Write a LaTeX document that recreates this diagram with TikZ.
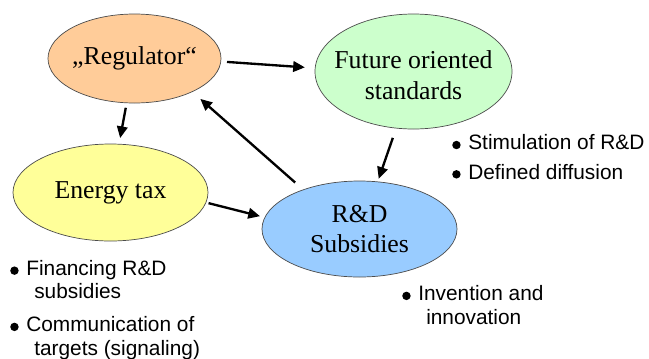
\documentclass[tikz,border=0pt]{standalone}
\usepackage{fontspec}
\setmainfont{Liberation Serif}
\setsansfont{Liberation Sans}
\usetikzlibrary{shapes.geometric,arrows.meta}

\definecolor{regfill}{HTML}{FFCC99}
\definecolor{stdfill}{HTML}{CCFFCC}
\definecolor{taxfill}{HTML}{FFFF99}
\definecolor{subfill}{HTML}{99CCFF}

\newcommand{\blt}{\tikz[baseline]\fill (0pt,4pt) circle (3.6pt);\hspace{6.5pt}}
\newcommand{\cont}{\hspace*{20.5pt}}

\begin{document}
\begin{tikzpicture}[x=0.03cm,y=-0.03cm,
    bubble/.style={ellipse,draw=black!70,line width=0.6pt,inner sep=0pt},
    caption/.style={font=\fontsize{22}{26}\selectfont,align=center},
    notes/.style={font=\sffamily\fontsize{17.8}{20}\selectfont,align=left,anchor=base west,inner sep=0pt},
    flow/.style={-{Triangle[length=10pt,width=9pt]},line width=2pt}]

  \useasboundingbox (0,0) rectangle (649,358);

  \begin{scope}[every label/.style={caption}]
    \node[bubble,fill=regfill,minimum width=5.19cm,minimum height=2.67cm,
          label={center:„Regulator“}] (reg) at (134.5,58.5) {};
    \node[bubble,fill=stdfill,minimum width=5.91cm,minimum height=3.45cm,
          label={[yshift=-3pt]center:Future oriented\\standards}] (std) at (413.5,71.5) {};
    \node[bubble,fill=taxfill,minimum width=5.85cm,minimum height=2.91cm,
          label={center:Energy tax}] (tax) at (110.5,192.5) {};
    \node[bubble,fill=subfill,minimum width=5.85cm,minimum height=2.88cm,
          label={center:R\&D\\Subsidies}] (sub) at (359.5,229) {};
  \end{scope}

  \begin{scope}[every edge/.style={draw,flow}]
    \path (reg.-2)   edge[shorten <=5pt,shorten >=8.5pt] (std.178);
    \path (reg.-100) edge[shorten <=4pt,shorten >=5pt]   (tax.80);
    \path (sub.145)  edge[shorten <=9pt,shorten >=9pt]   (reg.-30);
    \path (std.-107) edge[shorten <=8.5pt,shorten >=2.5pt] (sub.69);
    \path (tax.-6)   edge[shorten <=2pt,shorten >=4pt]   (sub.173);
  \end{scope}

  \node[notes] (stdnotes) at (452,179)
    {\blt Stimulation of R\&D\\[5pt]\blt Defined diffusion};
  \node[notes] (taxnotes) at (10,355)
    {\blt Financing R\&D\\\cont subsidies\\[8pt]\blt Communication of\\\cont targets (signaling)};
  \node[notes] (subnotes) at (402,324)
    {\blt Invention and\\\cont innovation};

\end{tikzpicture}
\end{document}
